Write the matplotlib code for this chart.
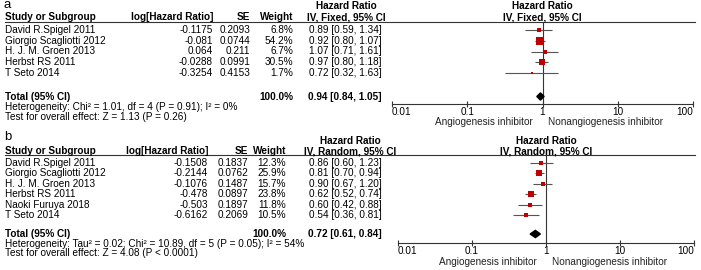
"""两组 meta 分析森林图（a: 固定效应，b: 随机效应），输出 out.png。"""

import matplotlib

matplotlib.use("Agg")
import matplotlib.pyplot as plt
import numpy as np

# ── 面板 a 数据 ────────────────────────────────────────────────────────────────
A_STUDIES = [
    "David R.Spigel 2011",
    "Giorgio Scagliotti 2012",
    "H. J. M. Groen 2013",
    "Herbst RS 2011",
    "T Seto 2014",
]
A_LOG_HR = [-0.1175, -0.081, 0.064, -0.0288, -0.3254]
A_SE = [0.2093, 0.0744, 0.211, 0.0991, 0.4153]
A_WEIGHT = [6.8, 54.2, 6.7, 30.5, 1.7]
A_HR = [0.89, 0.92, 1.07, 0.97, 0.72]
A_LO = [0.59, 0.80, 0.71, 0.80, 0.32]
A_HI = [1.34, 1.07, 1.61, 1.18, 1.63]
A_TOTAL = (0.94, 0.84, 1.05)
A_METHOD = "IV, Fixed, 95% CI"
A_HET = "Heterogeneity: Chi² = 1.01, df = 4 (P = 0.91); I² = 0%"
A_TEST = "Test for overall effect: Z = 1.13 (P = 0.26)"

# ── 面板 b 数据 ────────────────────────────────────────────────────────────────
B_STUDIES = [
    "David R.Spigel 2011",
    "Giorgio Scagliotti 2012",
    "H. J. M. Groen 2013",
    "Herbst RS 2011",
    "Naoki Furuya 2018",
    "T Seto 2014",
]
B_LOG_HR = [-0.1508, -0.2144, -0.1076, -0.478, -0.503, -0.6162]
B_SE = [0.1837, 0.0762, 0.1487, 0.0897, 0.1897, 0.2069]
B_WEIGHT = [12.3, 25.9, 15.7, 23.8, 11.8, 10.5]
B_HR = [0.86, 0.81, 0.90, 0.62, 0.60, 0.54]
B_LO = [0.60, 0.70, 0.67, 0.52, 0.42, 0.36]
B_HI = [1.23, 0.94, 1.20, 0.74, 0.88, 0.81]
B_TOTAL = (0.72, 0.61, 0.84)
B_METHOD = "IV, Random, 95% CI"
B_HET = "Heterogeneity: Tau² = 0.02; Chi² = 10.89, df = 5 (P = 0.05); I² = 54%"
B_TEST = "Test for overall effect: Z = 4.08 (P < 0.0001)"

TICKS = [0.01, 0.1, 1, 10, 100]
TICK_LABELS = ["0.01", "0.1", "1", "10", "100"]
LEFT_LABEL = "Angiogenesis inhibitor"
RIGHT_LABEL = "Nonangiogenesis inhibitor"

# ── 版式（像素坐标，原点在左上角） ──────────────────────────────────────────────
W, H = 701, 270
FS = 7.2
RED = "#c00000"
LINE = "#333333"

LAYOUT_A = dict(
    tag="a", tag_y=5.5, head1=6, head2=17, rule=22, row0=30, step=10.75,
    total=96.5, het=107, test=117, axis=104, bottom=122,
    col_log=213, col_se=250, col_w=293, col_ci=345, head_ci=346,
    fx0=392, fx1=693, k=1.22, lab_r=533, lab_l=548,
)
LAYOUT_B = dict(
    tag="b", tag_y=137, head1=141, head2=151, rule=155, row0=163, step=10.4,
    total=234, het=244, test=253, axis=243, bottom=262,
    col_log=208, col_se=248, col_w=286, col_ci=345, head_ci=350,
    fx0=398, fx1=694, k=1.1, lab_r=537, lab_l=552,
)


def _text(bg, x, y, s, ha="left", bold=False, **kw):
    kw.setdefault("fontsize", FS)
    kw.setdefault("color", "black")
    bg.text(x, y, s, ha=ha, va="center",
            fontweight="bold" if bold else "normal", **kw)


def _panel(fig, bg, lay, studies, log_hr, se, weight, hr, lo, hi, total,
           method, het, test):
    """画一个面板：左侧表格文字 + 右侧森林图。"""
    ys = [lay["row0"] + lay["step"] * i for i in range(len(studies))]

    # 表头
    _text(bg, 4, lay["tag_y"], lay["tag"], fontsize=9.5, fontstretch="condensed")
    _text(bg, lay["head_ci"], lay["head1"], "Hazard Ratio", ha="center", bold=True)
    _text(bg, 5, lay["head2"], "Study or Subgroup", bold=True)
    _text(bg, lay["col_log"], lay["head2"], "log[Hazard Ratio]", ha="right", bold=True)
    _text(bg, lay["col_se"], lay["head2"], "SE", ha="right", bold=True)
    _text(bg, lay["col_w"], lay["head2"], "Weight", ha="right", bold=True)
    _text(bg, lay["head_ci"], lay["head2"], method, ha="center", bold=True)
    fmid = (lay["fx0"] + lay["fx1"]) / 2
    _text(bg, fmid, lay["head1"], "Hazard Ratio", ha="center", bold=True)
    _text(bg, fmid, lay["head2"], method, ha="center", bold=True)
    bg.plot([5, 695], [lay["rule"], lay["rule"]], color=LINE, lw=0.8)

    # 各研究行
    for i, y in enumerate(ys):
        _text(bg, 5, y, studies[i])
        _text(bg, lay["col_log"], y, f"{log_hr[i]:g}", ha="right")
        _text(bg, lay["col_se"], y, f"{se[i]:g}", ha="right")
        _text(bg, lay["col_w"], y, f"{weight[i]:.1f}%", ha="right")
        _text(bg, lay["col_ci"], y, f"{hr[i]:.2f} [{lo[i]:.2f}, {hi[i]:.2f}]",
              ha="center")

    # 合计 + 异质性
    est, tlo, thi = total
    _text(bg, 5, lay["total"], "Total (95% CI)", bold=True)
    _text(bg, lay["col_w"], lay["total"], "100.0%", ha="right", bold=True)
    _text(bg, lay["col_ci"], lay["total"], f"{est:.2f} [{tlo:.2f}, {thi:.2f}]",
          ha="center", bold=True)
    _text(bg, 5, lay["het"], het)
    _text(bg, 5, lay["test"], test)

    # 森林图坐标轴
    ax = fig.add_axes([lay["fx0"] / W, 1 - lay["axis"] / H,
                       (lay["fx1"] - lay["fx0"]) / W,
                       (lay["axis"] - lay["rule"]) / H])
    ax.patch.set_alpha(0)
    ax.set_xscale("log")
    ax.set_xlim(TICKS[0], TICKS[-1])
    ax.set_ylim(lay["axis"], lay["rule"])
    for side in ("top", "left", "right"):
        ax.spines[side].set_visible(False)
    ax.spines["bottom"].set_color(LINE)
    ax.spines["bottom"].set_linewidth(0.8)
    ax.set_yticks([])
    ax.xaxis.set_minor_locator(matplotlib.ticker.NullLocator())
    ax.set_xticks(TICKS, TICK_LABELS)
    ax.tick_params(axis="x", direction="inout", length=4, width=0.8,
                   color=LINE, labelsize=FS, pad=0.5)
    labels = ax.get_xticklabels()
    labels[0].set_horizontalalignment("left")
    labels[-1].set_horizontalalignment("right")

    ax.axvline(1, color=LINE, lw=0.8, zorder=1)
    ax.hlines(ys, lo, hi, color="#555555", lw=0.8, zorder=2)
    for i, y in enumerate(ys):
        side_px = max(lay["k"] * np.sqrt(weight[i]), 2.5)
        ax.plot(hr[i], y, marker="s", ms=side_px * 72 / 100, color=RED,
                mec=RED, mew=0, ls="none", zorder=3, clip_on=False)
    ty = lay["total"]
    ax.fill([tlo, est, thi, est], [ty, ty - 3.6, ty, ty + 3.6],
            color="black", zorder=3, clip_on=False)

    # 方向标签
    _text(bg, lay["lab_r"], lay["bottom"], LEFT_LABEL, ha="right", color="#222222")
    _text(bg, lay["lab_l"], lay["bottom"], RIGHT_LABEL, ha="left", color="#222222")


def main() -> None:
    plt.rcParams["font.family"] = ["Liberation Sans", "DejaVu Sans"]
    fig = plt.figure(figsize=(W / 100, H / 100), dpi=100, facecolor="white")
    bg = fig.add_axes([0, 0, 1, 1])
    bg.set_xlim(0, W)
    bg.set_ylim(H, 0)
    bg.axis("off")

    _panel(fig, bg, LAYOUT_A, A_STUDIES, A_LOG_HR, A_SE, A_WEIGHT, A_HR, A_LO,
           A_HI, A_TOTAL, A_METHOD, A_HET, A_TEST)
    _panel(fig, bg, LAYOUT_B, B_STUDIES, B_LOG_HR, B_SE, B_WEIGHT, B_HR, B_LO,
           B_HI, B_TOTAL, B_METHOD, B_HET, B_TEST)

    fig.savefig("out.png", dpi=100, facecolor="white")
    plt.close(fig)


if __name__ == "__main__":
    main()
